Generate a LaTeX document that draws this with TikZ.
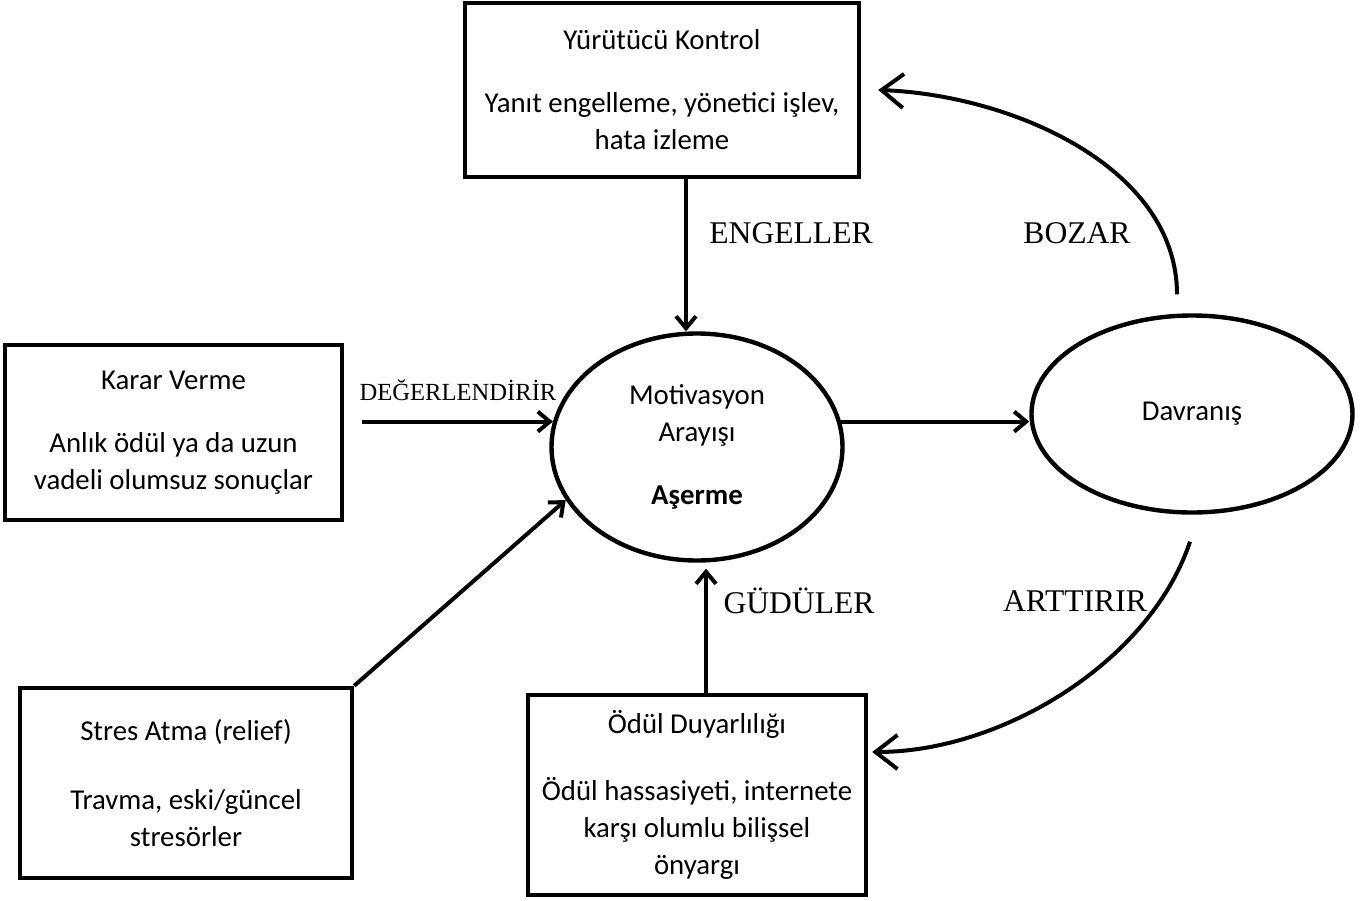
\documentclass[tikz,border=0pt]{standalone}
\usepackage{fontspec}
\setmainfont{Carlito}
\newfontfamily\timesfont{Liberation Serif}
\usetikzlibrary{positioning}
\usetikzlibrary{shapes.geometric}
\usetikzlibrary{arrows.meta}

\begin{document}
\begin{tikzpicture}[x=0.5pt, y=-0.5pt,
    every node/.style={font=\fontsize{14.4}{18.5}\selectfont},
    box/.style={rectangle, draw, line width=2.2pt, align=center, inner sep=0pt},
    oval/.style={ellipse, draw, line width=2.2pt, align=center, inner sep=0pt},
    arr/.style={line width=2pt, -{Straight Barb[length=6pt,width=10pt]}},
    bigarr/.style={line width=2pt, -{Straight Barb[length=11pt,width=17pt]}},
    lbl/.style={font=\timesfont\fontsize{15.8}{18}\selectfont}]
    \useasboundingbox (0,0) rectangle (1365,900);

    \node[box, minimum width=197pt, minimum height=87pt] (yk) at (662,90)
        {Yürütücü Kontrol\\[13pt]Yanıt engelleme, yönetici işlev,\\hata izleme};
    \node[box, minimum width=168.5pt, minimum height=87.5pt] (karar) at (173.5,432.5)
        {Karar Verme\\[13pt]Anlık ödül ya da uzun\\vadeli olumsuz sonuçlar};
    \node[box, minimum width=166pt, minimum height=95pt] (stres) at (186,783)
        {Stres Atma (relief)\\[16pt]Travma, eski/güncel\\stresörler};
    \node[box, minimum width=169pt, minimum height=100pt] (odul) at (697,795)
        {Ödül Duyarlılığı\\[15pt]Ödül hassasiyeti, internete\\karşı olumlu bilişsel\\önyargı};
    \node[oval, minimum width=145.5pt, minimum height=113.5pt] (mot) at (697,447)
        {Motivasyon\\Arayışı\\[13pt]\textbf{Aşerme}};
    \node[oval, minimum width=160.5pt, minimum height=98.5pt] (dav) at (1192,414) {Davranış};

    \node[lbl] (engl) at (791,233) {ENGELLER};
    \node[lbl] (bozar) at (1077,233) {BOZAR};
    \node[lbl, font=\timesfont\fontsize{12.3}{14}\selectfont] (degr) at (458,390) {DEĞERLENDİRİR};
    \node[lbl] (gudu) at (799,601) {GÜDÜLER};
    \node[lbl] (artt) at (1075,601) {ARTTIRIR};

    \coordinate (engtop) at ([xshift=12pt]yk.south);
    \coordinate (gudbot) at ([xshift=4.5pt]odul.north);

    \draw[arr] (engtop) -- (engtop |- mot.north);
    \draw[arr, shorten <=9pt] (karar.east |- mot.170) -- (mot.170);
    \draw[arr] (stres.north east) -- (mot.202);
    \draw[arr, shorten >=3pt] (gudbot) -- (gudbot |- mot.south);
    \draw[arr] (mot.10) -- (mot.10 -| dav.west);
    \draw[bigarr] ([shift={(-15,-19)}]dav.north) .. controls +(0,-127) and +(134,5) .. ([xshift=8.5pt]yk.east);
    \draw[bigarr] ([shift={(-2,27)}]dav.south) .. controls +(-40,120) and +(130,0) .. ([shift={(4,-43)}]odul.east);
\end{tikzpicture}
\end{document}
